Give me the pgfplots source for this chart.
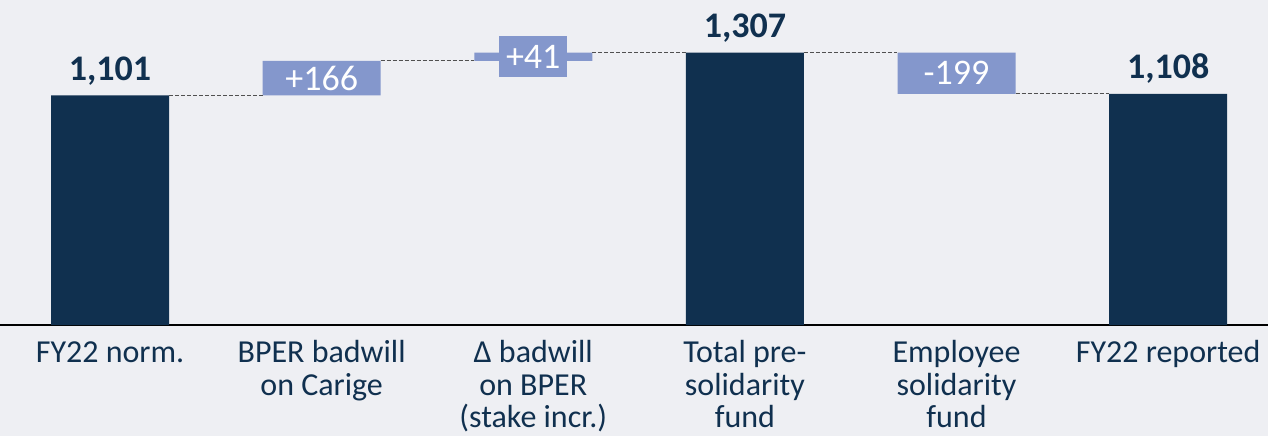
\documentclass[border=0pt]{standalone}
\usepackage{pgfplots}
\pgfplotsset{compat=1.18}
\usepackage{fontspec}
\setmainfont{Carlito}
\usetikzlibrary{backgrounds}
\definecolor{navy}{HTML}{10304F}
\definecolor{lblue}{HTML}{8497CC}
\definecolor{bgc}{HTML}{EEEFF3}
\definecolor{dashc}{HTML}{505050}
\newcommand\fs{\rule{0pt}{12pt}}
\pgfplotsset{wf/.style={scale only axis, width=634pt, height=162.5pt,
  xmin=-0.52, xmax=5.472, ymin=0, ymax=1558.8, clip=false,
  at={(0,0)}, anchor=south west}}
\begin{document}
\begin{tikzpicture}
\begin{axis}[wf, name=ax,
  ybar stacked, bar width=59pt,
  hide y axis, axis x line*=bottom,
  x axis line style={-, line width=1pt, black},
  xtick={0,1,2,3,4,5}, xtick style={draw=none}, major tick length=0pt,
  xticklabels={\fs FY22 norm., {\fs BPER badwill\\on Carige}, {\fs Δ badwill\\on BPER\\(stake incr.)}, {\fs Total pre-\\solidarity\\fund}, {\fs Employee\\solidarity\\fund}, \fs FY22 reported},
  xticklabel style={font=\fontsize{16}{16.2}\selectfont, text=navy, align=center, anchor=north, inner sep=0pt, yshift=-6.75pt},
]
\addplot[fill=none, draw=none] coordinates {(0,0) (1,1101) (2,1267) (3,0) (4,1108) (5,0)};
\addplot[fill=navy, draw=none] coordinates {(0,1101) (1,0) (2,0) (3,1307) (4,0) (5,1108)};
\addplot[fill=lblue, draw=none] coordinates {(0,0) (1,166) (2,40) (3,0) (4,199) (5,0)};
\end{axis}
\begin{axis}[wf, hide axis]
\addplot[dashc, line width=0.5pt, dash pattern=on 2pt off 1pt] coordinates {(0.279,1101) (0.721,1101)};
\addplot[dashc, line width=0.5pt, dash pattern=on 2pt off 1pt] coordinates {(1.279,1267) (1.721,1267)};
\addplot[dashc, line width=0.5pt, dash pattern=on 2pt off 1pt] coordinates {(2.279,1307) (2.721,1307)};
\addplot[dashc, line width=0.5pt, dash pattern=on 2pt off 1pt] coordinates {(3.279,1307) (3.721,1307)};
\addplot[dashc, line width=0.5pt, dash pattern=on 2pt off 1pt] coordinates {(4.279,1108) (4.721,1108)};
\node[anchor=base, text=navy, font=\bfseries\fontsize{18}{20}\selectfont, yshift=7.5pt] at (axis cs:0,1101) {1,101};
\node[anchor=base, text=navy, font=\bfseries\fontsize{18}{20}\selectfont, yshift=7.5pt] at (axis cs:3,1307) {1,307};
\node[anchor=base, text=navy, font=\bfseries\fontsize{18}{20}\selectfont, yshift=7.5pt] at (axis cs:5,1108) {1,108};
\node[text=white, font=\fontsize{18}{20}\selectfont] at (axis cs:1,1184) {+166};
\node[text=white, fill=lblue, inner sep=0pt, minimum width=34pt, minimum height=20.3pt, font=\fontsize{18}{20}\selectfont] at (axis cs:2,1287) {+41};
\node[text=white, font=\fontsize{18}{20}\selectfont] at (axis cs:4,1207.5) {-199};
\end{axis}
\pgfresetboundingbox
\begin{scope}[on background layer]
\fill[bgc] (ax.south west) ++(0,-55.5pt) rectangle (ax.north east);
\end{scope}
\path[use as bounding box] (ax.south west) ++(0,-55.5pt) rectangle (ax.north east);
\end{tikzpicture}
\end{document}
